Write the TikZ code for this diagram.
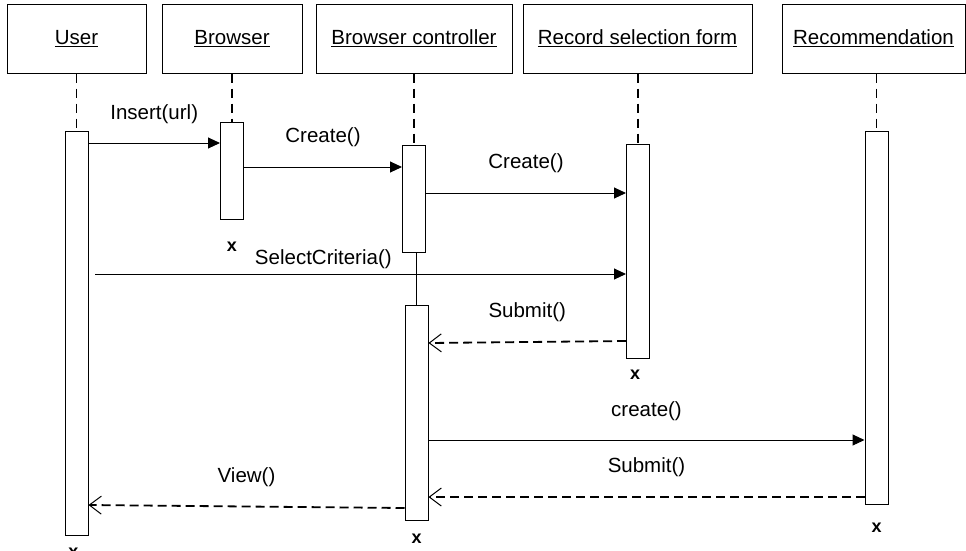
\documentclass[tikz,border=0pt]{standalone}
\usepackage{fontspec}
\setmainfont{Liberation Sans}
\usetikzlibrary{arrows.meta, positioning, calc}

\begin{document}
\begin{tikzpicture}[x=1pt,y=-1pt,>={Triangle[length=12pt,width=11pt]},
	font=\fontsize{20.5}{24}\selectfont,
	object/.style={draw,line width=1pt,minimum height=69pt,inner sep=2pt},
	act/.style={draw,line width=1pt,fill=white,anchor=north,minimum width=23pt,inner sep=0pt},
	life/.style={line width=1.6pt,dash pattern=on 9pt off 6pt},
	call/.style={->,line width=1pt},
	reply/.style={-{Straight Barb[length=12pt,width=18pt,line width=1pt]},line width=1.8pt,dash pattern=on 9pt off 5pt},
	lbl/.style={midway,yshift=#1},lbl/.default=29pt,
	xmark/.style={font=\fontsize{18}{20}\selectfont\bfseries,inner sep=0pt}]

	\useasboundingbox (0,0) rectangle (966,550);

	% objects
	\node[object,minimum width=139pt] (user) at (76.5,38.5) {\underline{User}};
	\node[object,minimum width=140pt] (browser) at (232,38.5) {\underline{Browser}};
	\node[object,minimum width=196pt] (bctrl) at (414,38.5) {\underline{Browser controller}};
	\node[object,minimum width=229pt] (form) at (637.5,38.5) {\underline{Record selection form}};
	\node[object,minimum width=183pt] (recom) at (873.5,38.5) {\underline{Recommendation}};

	% activations
	\node[act,minimum height=404pt] (uact) at (76.5,131) {};
	\node[act,minimum height=97pt] (bact) at (232,122) {};
	\node[act,minimum height=107pt] (cact1) at (414,145) {};
	\node[act,minimum height=215pt] (cact2) at (416.5,305) {};
	\node[act,minimum height=214pt] (fact) at (638,144) {};
	\node[act,minimum height=373pt] (ract) at (876.5,131) {};

	% lifelines
	\draw[life] (user.south -| uact.north) -- (uact.north);
	\draw[life] (browser.south -| bact.north) -- (bact.north);
	\draw[life] (bctrl.south -| cact1.north) -- (cact1.north);
	\draw[life] (form.south -| fact.north) -- (fact.north);
	\draw[life] (recom.south -| ract.north) -- (ract.north);
	\draw[line width=1.4pt] (cact2.north |- cact1.south) -- (cact2.north);

	% destroy marks
	\node[xmark,below=21.5pt of bact] (bx) {x};
	\node[xmark,below=10.5pt of fact,xshift=-3pt] (fx) {x};
	\node[xmark,below=12.5pt of cact2] (cx) {x};
	\node[xmark,below=17.5pt of ract] (rx) {x};
	\node[xmark,below=11.5pt of uact,xshift=-3pt] (ux) {x};

	% messages
	\coordinate (selstart) at (95,274);
	\draw[call] (uact.east |- 0,143) -- node[lbl] {Insert(url)} (bact.west |- 0,143);
	\draw[call] (bact.east |- 0,167) -- node[lbl=30pt] {Create()} (cact1.west |- 0,167);
	\draw[call] (cact1.east |- 0,193) -- node[lbl=30pt] {Create()} (fact.west |- 0,193);
	\draw[call] (selstart) -- node[lbl=15pt,pos=.43] {SelectCriteria()} (fact.west |- selstart);
	\draw[reply] (fact.west |- 0,341) -- node[lbl=30pt] {Submit()} (cact2.east |- 0,343);
	\draw[call] (cact2.east |- 0,440) -- node[lbl] {create()} (ract.west |- 0,440);
	\draw[reply] (ract.west |- 0,497) -- node[lbl=30pt] {Submit()} (cact2.east |- 0,497);
	\draw[reply] (cact2.west |- 0,508) -- node[lbl] {View()} (uact.east |- 0,505);
\end{tikzpicture}
\end{document}
